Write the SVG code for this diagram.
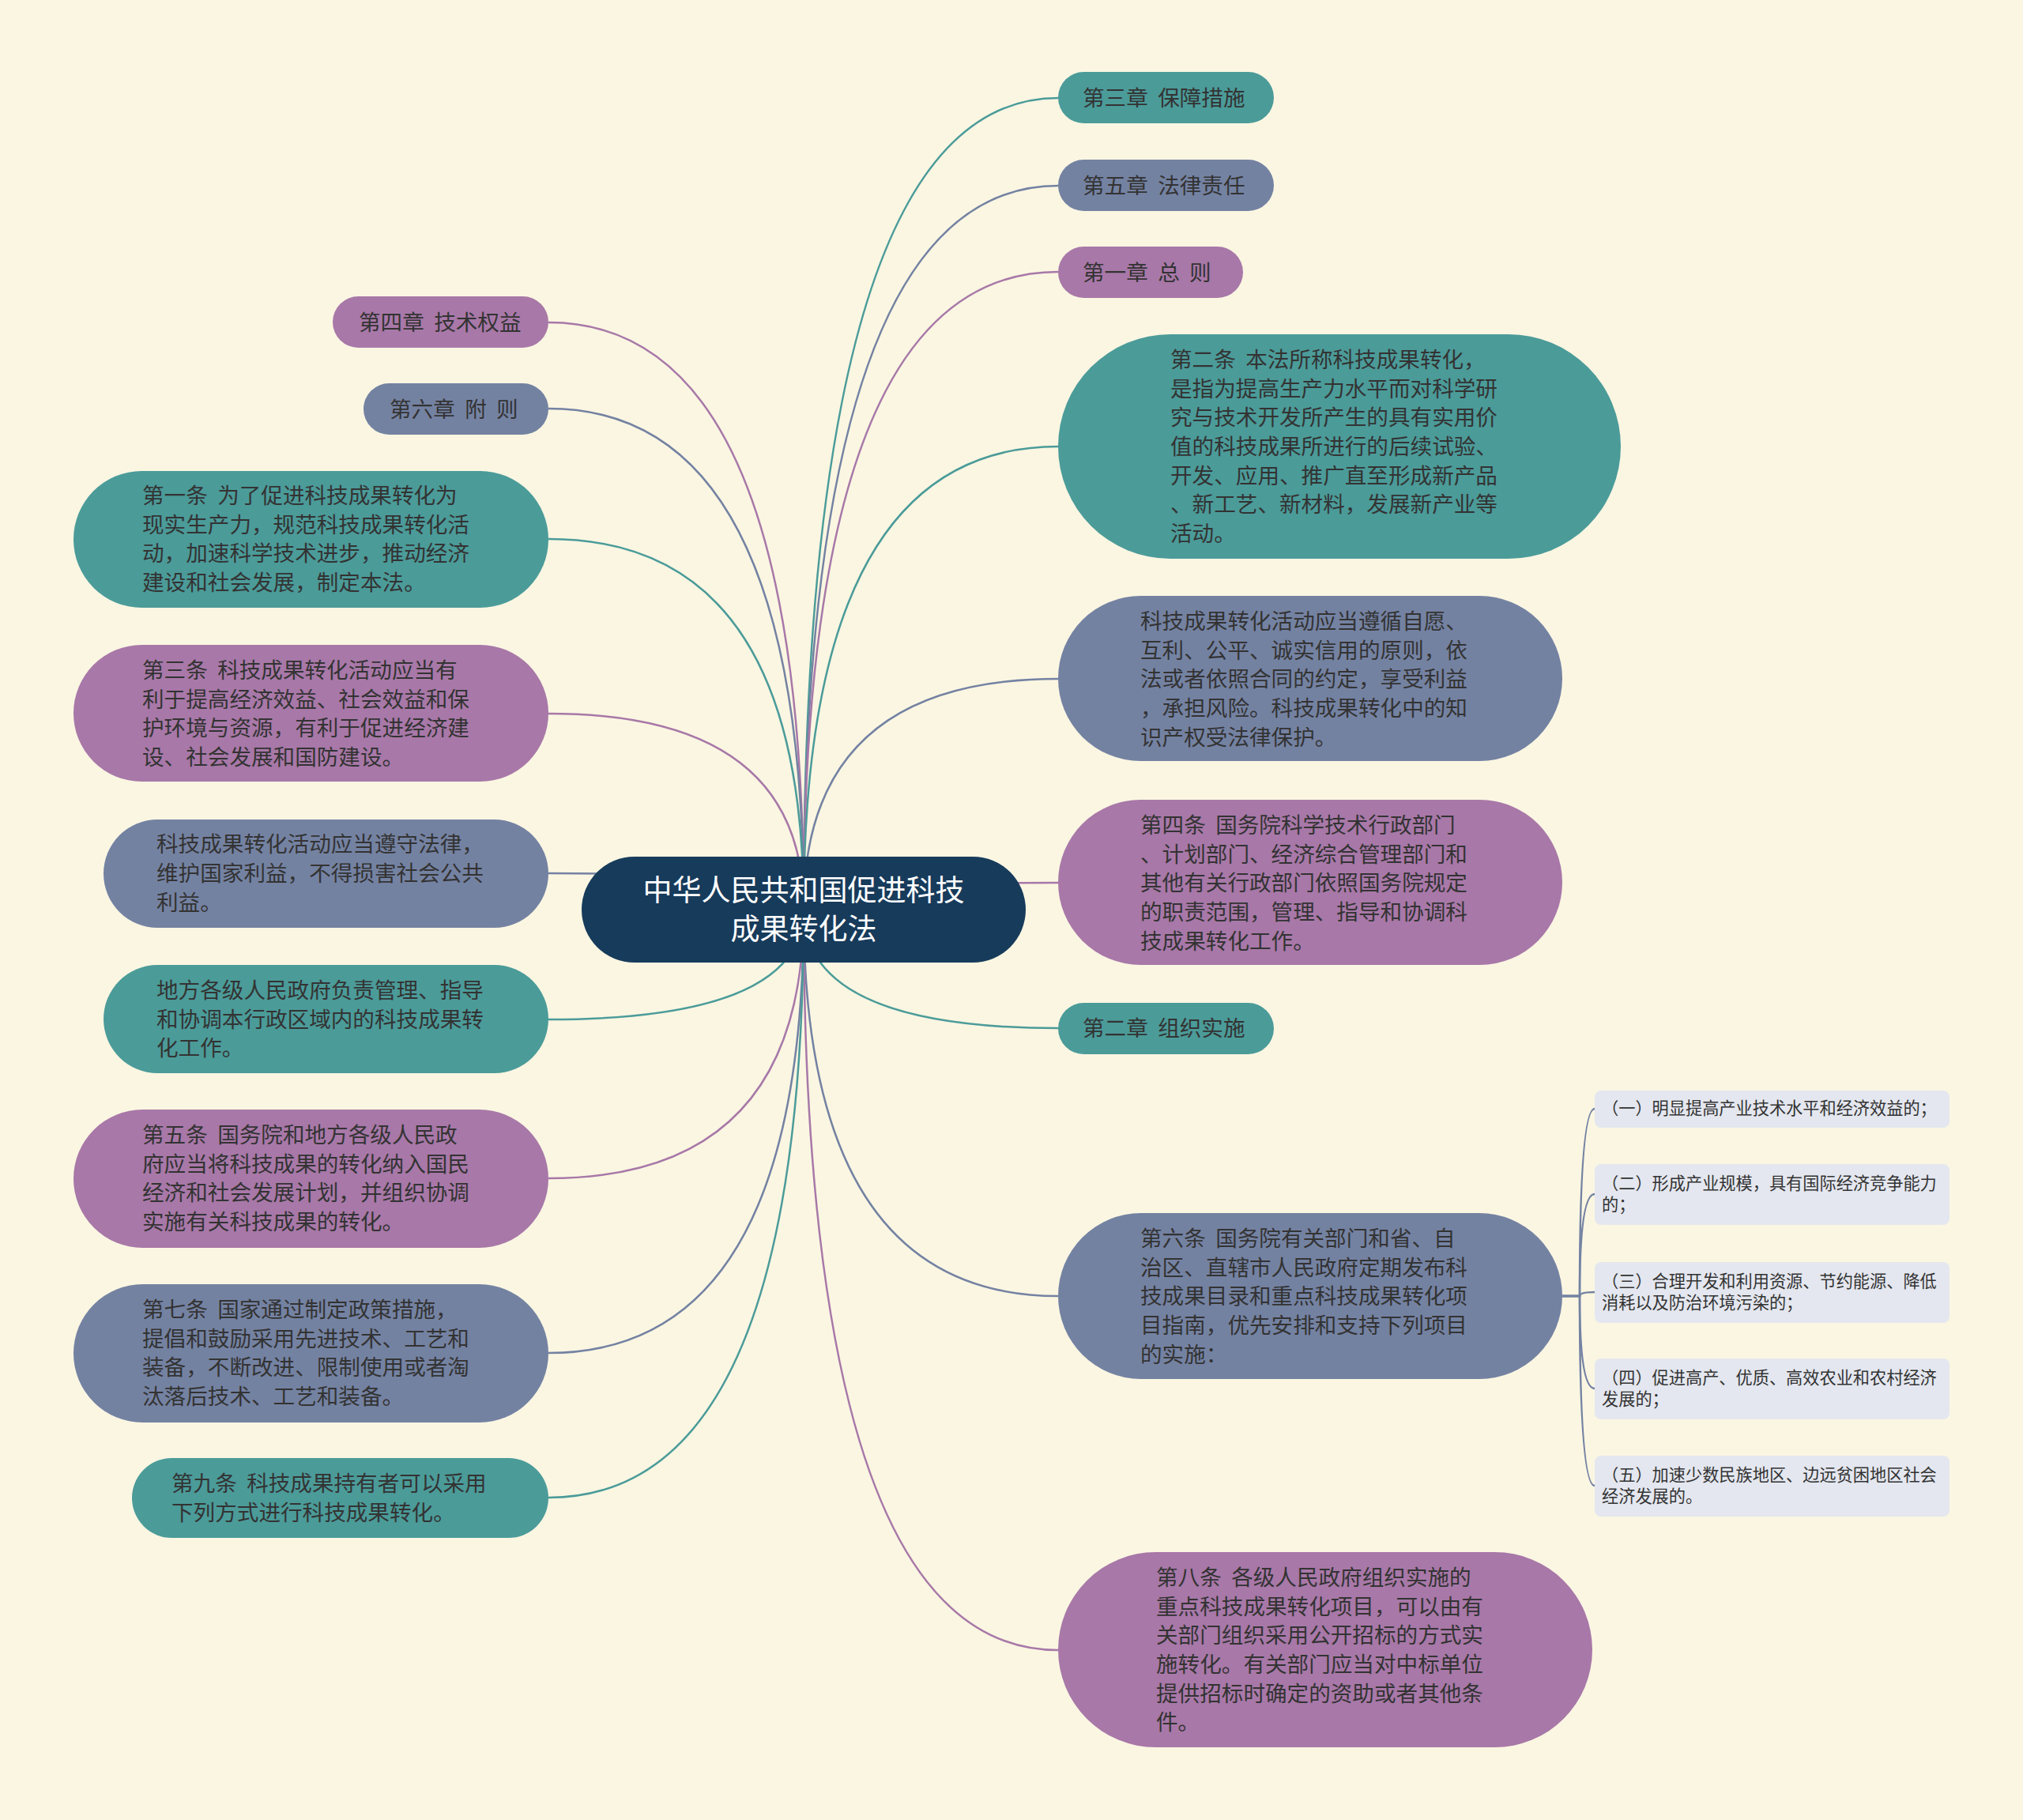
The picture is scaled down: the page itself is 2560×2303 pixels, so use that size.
<svg xmlns="http://www.w3.org/2000/svg" width="2560" height="2303" viewBox="0 0 2560 2303">
<style>
text{font-family:"Noto Sans CJK SC","Noto Sans",sans-serif;white-space:pre}
.t{font-size:27.6px;fill:#333333}
.s{font-size:21.2px;fill:#333333}
.title{font-size:37px;fill:#ffffff;text-anchor:middle}
.teal{fill:#4b9b99}
.blue{fill:#7482a2}
.purple{fill:#a878a8}
.sub{fill:#e4e7ef}
.c{fill:none;stroke-width:2.5}
.ct{stroke:#4b9b99}
.cb{stroke:#7482a2}
.cp{stroke:#a878a8}
</style>
<rect width="2560" height="2303" fill="#faf6e2"/>
<g id="connectors">
<path class="c ct" d="M1017,1151 Q1017,124 1339,124"/>
<path class="c cb" d="M1017,1151 Q1017,235 1339,235"/>
<path class="c cp" d="M1017,1151 Q1017,344 1339,344"/>
<path class="c ct" d="M1017,1151 Q1017,565 1339,565"/>
<path class="c cb" d="M1017,1151 Q1017,859 1339,859"/>
<path class="c cp" d="M1017,1151 Q1017,1117 1339,1117"/>
<path class="c ct" d="M1017,1151 Q1017,1301 1339,1301"/>
<path class="c cb" d="M1017,1151 Q1017,1640 1339,1640"/>
<path class="c cp" d="M1017,1151 Q1017,2088 1339,2088"/>
<path class="c cp" d="M1017,1151 Q1017,408 694,408"/>
<path class="c cb" d="M1017,1151 Q1017,517 694,517"/>
<path class="c ct" d="M1017,1151 Q1017,682 694,682"/>
<path class="c cp" d="M1017,1151 Q1017,903 694,903"/>
<path class="c cb" d="M1017,1151 Q1017,1105 694,1105"/>
<path class="c ct" d="M1017,1151 Q1017,1290 694,1290"/>
<path class="c cp" d="M1017,1151 Q1017,1491 694,1491"/>
<path class="c cb" d="M1017,1151 Q1017,1712 694,1712"/>
<path class="c ct" d="M1017,1151 Q1017,1895 694,1895"/>
<path class="c cb" d="M1977,1640 H1999 Q1999,1403 2018,1403"/>
<path class="c cb" d="M1977,1640 H1999 Q1999,1511 2018,1511"/>
<path class="c cb" d="M1977,1640 H1999 Q1999,1635 2018,1635"/>
<path class="c cb" d="M1977,1640 H1999 Q1999,1757 2018,1757"/>
<path class="c cb" d="M1977,1640 H1999 Q1999,1880 2018,1880"/>
</g>
<g id="root">
<rect x="736" y="1084" width="562" height="134" rx="67" fill="#173b5b"/>
<text class="title" x="1017" y="1140">中华人民共和国促进科技</text>
<text class="title" x="1017" y="1189">成果转化法</text>
</g>
<g id="n-ch3">
<rect class="teal" x="1339" y="91" width="273" height="65" rx="32.5"/>
<text class="t" x="1370" y="134">第三章  保障措施</text>
</g>
<g id="n-ch5">
<rect class="blue" x="1339" y="202" width="273" height="65" rx="32.5"/>
<text class="t" x="1370" y="245">第五章  法律责任</text>
</g>
<g id="n-ch1">
<rect class="purple" x="1339" y="312" width="234" height="65" rx="32.5"/>
<text class="t" x="1370" y="355">第一章  总  则</text>
</g>
<g id="n-art2">
<rect class="teal" x="1339" y="423" width="712" height="284" rx="142"/>
<text class="t" x="1481" y="465">第二条  本法所称科技成果转化，</text>
<text class="t" x="1481" y="502">是指为提高生产力水平而对科学研</text>
<text class="t" x="1481" y="538">究与技术开发所产生的具有实用价</text>
<text class="t" x="1481" y="575">值的科技成果所进行的后续试验、</text>
<text class="t" x="1481" y="612">开发、应用、推广直至形成新产品</text>
<text class="t" x="1481" y="648">、新工艺、新材料，发展新产业等</text>
<text class="t" x="1481" y="685">活动。</text>
</g>
<g id="n-principle">
<rect class="blue" x="1339" y="754" width="638" height="209" rx="104.5"/>
<text class="t" x="1443" y="796">科技成果转化活动应当遵循自愿、</text>
<text class="t" x="1443" y="833">互利、公平、诚实信用的原则，依</text>
<text class="t" x="1443" y="869">法或者依照合同的约定，享受利益</text>
<text class="t" x="1443" y="906">，承担风险。科技成果转化中的知</text>
<text class="t" x="1443" y="943">识产权受法律保护。</text>
</g>
<g id="n-art4">
<rect class="purple" x="1339" y="1012" width="638" height="209" rx="104.5"/>
<text class="t" x="1443" y="1054">第四条  国务院科学技术行政部门</text>
<text class="t" x="1443" y="1091">、计划部门、经济综合管理部门和</text>
<text class="t" x="1443" y="1127">其他有关行政部门依照国务院规定</text>
<text class="t" x="1443" y="1164">的职责范围，管理、指导和协调科</text>
<text class="t" x="1443" y="1201">技成果转化工作。</text>
</g>
<g id="n-ch2">
<rect class="teal" x="1339" y="1269" width="273" height="65" rx="32.5"/>
<text class="t" x="1370" y="1311">第二章  组织实施</text>
</g>
<g id="n-art6">
<rect class="blue" x="1339" y="1535" width="638" height="210" rx="105"/>
<text class="t" x="1443" y="1577">第六条  国务院有关部门和省、自</text>
<text class="t" x="1443" y="1614">治区、直辖市人民政府定期发布科</text>
<text class="t" x="1443" y="1650">技成果目录和重点科技成果转化项</text>
<text class="t" x="1443" y="1687">目指南，优先安排和支持下列项目</text>
<text class="t" x="1443" y="1724">的实施：</text>
</g>
<g id="n-sub1">
<rect class="sub" x="2018" y="1380" width="449" height="47" rx="8"/>
<text class="s" x="2027" y="1410">（一）明显提高产业技术水平和经济效益的；</text>
</g>
<g id="n-sub2">
<rect class="sub" x="2018" y="1473" width="449" height="77" rx="8"/>
<text class="s" x="2027" y="1505">（二）形成产业规模，具有国际经济竞争能力</text>
<text class="s" x="2027" y="1532">的；</text>
</g>
<g id="n-sub3">
<rect class="sub" x="2018" y="1597" width="449" height="77" rx="8"/>
<text class="s" x="2027" y="1629">（三）合理开发和利用资源、节约能源、降低</text>
<text class="s" x="2027" y="1656">消耗以及防治环境污染的；</text>
</g>
<g id="n-sub4">
<rect class="sub" x="2018" y="1719" width="449" height="77" rx="8"/>
<text class="s" x="2027" y="1751">（四）促进高产、优质、高效农业和农村经济</text>
<text class="s" x="2027" y="1778">发展的；</text>
</g>
<g id="n-sub5">
<rect class="sub" x="2018" y="1842" width="449" height="77" rx="8"/>
<text class="s" x="2027" y="1874">（五）加速少数民族地区、边远贫困地区社会</text>
<text class="s" x="2027" y="1901">经济发展的。</text>
</g>
<g id="n-art8">
<rect class="purple" x="1339" y="1964" width="676" height="247" rx="123.5"/>
<text class="t" x="1463" y="2006">第八条  各级人民政府组织实施的</text>
<text class="t" x="1463" y="2043">重点科技成果转化项目，可以由有</text>
<text class="t" x="1463" y="2079">关部门组织采用公开招标的方式实</text>
<text class="t" x="1463" y="2116">施转化。有关部门应当对中标单位</text>
<text class="t" x="1463" y="2153">提供招标时确定的资助或者其他条</text>
<text class="t" x="1463" y="2189">件。</text>
</g>
<g id="n-ch4">
<rect class="purple" x="421" y="375" width="273" height="65" rx="32.5"/>
<text class="t" x="454" y="418">第四章  技术权益</text>
</g>
<g id="n-ch6">
<rect class="blue" x="460" y="485" width="234" height="65" rx="32.5"/>
<text class="t" x="493" y="528">第六章  附  则</text>
</g>
<g id="n-art1">
<rect class="teal" x="93" y="596" width="601" height="173" rx="86.5"/>
<text class="t" x="180" y="637">第一条  为了促进科技成果转化为</text>
<text class="t" x="180" y="674">现实生产力，规范科技成果转化活</text>
<text class="t" x="180" y="710">动，加速科学技术进步，推动经济</text>
<text class="t" x="180" y="747">建设和社会发展，制定本法。</text>
</g>
<g id="n-art3">
<rect class="purple" x="93" y="816" width="601" height="173" rx="86.5"/>
<text class="t" x="180" y="858">第三条  科技成果转化活动应当有</text>
<text class="t" x="180" y="895">利于提高经济效益、社会效益和保</text>
<text class="t" x="180" y="931">护环境与资源，有利于促进经济建</text>
<text class="t" x="180" y="968">设、社会发展和国防建设。</text>
</g>
<g id="n-law">
<rect class="blue" x="131" y="1037" width="563" height="137" rx="68.5"/>
<text class="t" x="198" y="1078">科技成果转化活动应当遵守法律，</text>
<text class="t" x="198" y="1115">维护国家利益，不得损害社会公共</text>
<text class="t" x="198" y="1152">利益。</text>
</g>
<g id="n-local">
<rect class="teal" x="131" y="1221" width="563" height="137" rx="68.5"/>
<text class="t" x="198" y="1263">地方各级人民政府负责管理、指导</text>
<text class="t" x="198" y="1300">和协调本行政区域内的科技成果转</text>
<text class="t" x="198" y="1336">化工作。</text>
</g>
<g id="n-art5">
<rect class="purple" x="93" y="1404" width="601" height="175" rx="87.5"/>
<text class="t" x="180" y="1446">第五条  国务院和地方各级人民政</text>
<text class="t" x="180" y="1483">府应当将科技成果的转化纳入国民</text>
<text class="t" x="180" y="1519">经济和社会发展计划，并组织协调</text>
<text class="t" x="180" y="1556">实施有关科技成果的转化。</text>
</g>
<g id="n-art7">
<rect class="blue" x="93" y="1625" width="601" height="175" rx="87.5"/>
<text class="t" x="180" y="1667">第七条  国家通过制定政策措施，</text>
<text class="t" x="180" y="1704">提倡和鼓励采用先进技术、工艺和</text>
<text class="t" x="180" y="1740">装备，不断改进、限制使用或者淘</text>
<text class="t" x="180" y="1777">汰落后技术、工艺和装备。</text>
</g>
<g id="n-art9">
<rect class="teal" x="167" y="1845" width="527" height="101" rx="50.5"/>
<text class="t" x="217" y="1887">第九条  科技成果持有者可以采用</text>
<text class="t" x="217" y="1924">下列方式进行科技成果转化。</text>
</g>
</svg>
